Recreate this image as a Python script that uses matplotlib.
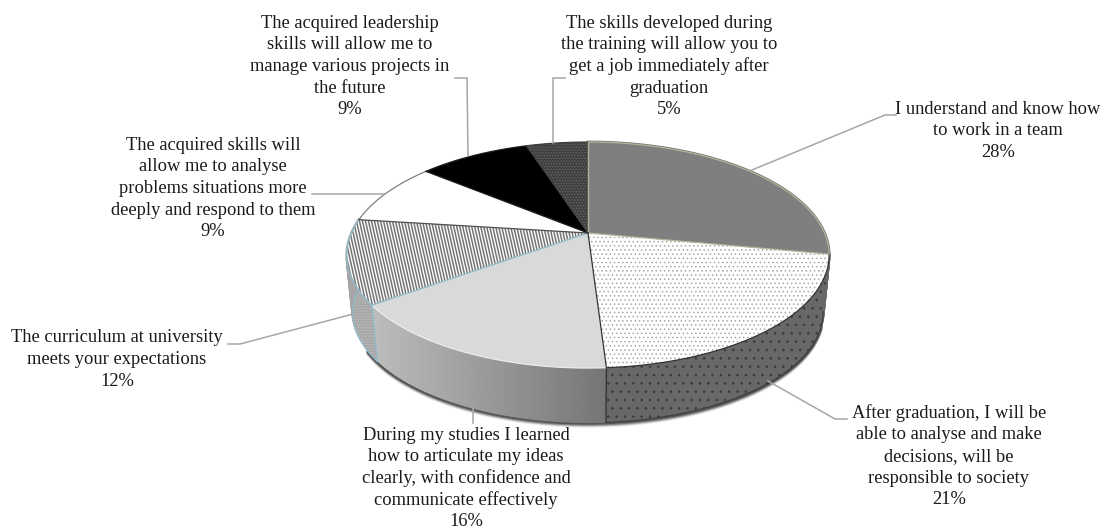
""" 3D looking pie chart of the student survey, drawn on a pixel sized axes. """

import numpy as np
import matplotlib
matplotlib.use('Agg')
import matplotlib.pyplot as plt
from matplotlib.patches import Polygon
from matplotlib.collections import LineCollection

plt.rcParams['font.family'] = ['Liberation Serif', 'DejaVu Serif']
plt.rcParams['hatch.linewidth'] = 0.6

values = [28, 21, 16, 12, 9, 9, 5]
labels = ['I understand and know how\nto work in a team',
          'After graduation, I will be\nable to analyse and make\ndecisions, will be\nresponsible to society',
          'During my studies I learned\nhow to articulate my ideas\nclearly, with confidence and\ncommunicate effectively',
          'The curriculum at university\nmeets your expectations',
          'The acquired skills will\nallow me to analyse\nproblems situations more\ndeeply and respond to them',
          'The acquired leadership\nskills will allow me to\nmanage various projects in\nthe future',
          'The skills developed during\nthe training will allow you to\nget a job immediately after\ngraduation']

# layout, in reference pixels
label_pos = [(998, 109), (949, 413), (466, 435), (117, 338), (213, 145), (350, 23), (669, 23)]
leaders = [[(752, 170), (885, 115), (896, 115)],
           [(768, 381), (835, 419), (847, 419)],
           [(473, 407), (473, 423)],
           [(353, 314), (240, 344), (228, 344)],
           [(385, 194), (312, 194)],
           [(468, 155), (467, 78), (455, 78)],
           [(553, 143), (553, 78), (565, 78)]]

top_face = ['#7f7f7f', '#ffffff', '#d9d9d9', '#ffffff', '#ffffff', '#000000', '#404040']
top_hatch = [None, '....', None, None, None, None, '......']
top_hatch_col = [None, '#a8a8a8', None, None, None, None, '#666666']
side_face = ['#6f6f6f', '#686868', '#999999', '#a6a6a6', '#d0d0d0', '#222222', '#333333']
side_hatch = [None, '..', None, '......', None, None, None]
side_hatch_col = [None, '#3a3a3a', None, '#c4c4c4', None, None, None]
arc_col = ['#b4b69a', '#30343a', '#ececec', '#8fbccb', '#808080', '#202020', '#404040']
ray_col = ['#b4b69a', '#b4b69a', '#30343a', '#8fbccb', '#505050', '#202020', '#404040']

CX, CY = 588, 233
A, B, P = 236.5, 108.7, 0.195
DEPTH, SHRINK = 58, 0.975


def project(frac, level=0.0):
    """ position on the circle (fraction clockwise from the top) to pixels,
        level 0 is the top face and level 1 the bottom of the wall """
    ang = 2 * np.pi * np.asarray(frac, dtype=float)
    x, y = np.sin(ang), np.cos(ang)
    w = 1 + P * y
    s = 1 + (SHRINK - 1) * level
    return np.column_stack((CX + s * A * x / w, CY + DEPTH * level - s * B * y / w))


fig = plt.figure(figsize=(11.07, 5.29), dpi=100)
ax = fig.add_axes([0, 0, 1, 1])

stops = np.cumsum([0] + values) / sum(values)

# soft shadow under the front of the pie
arc = np.linspace(stops[1] + 0.02, stops[3] + 0.015, 120)
for off, alpha in zip([3.5, 2.5, 1.5, 0.5], [0.12, 0.25, 0.4, 0.6]):
    pts = project(arc, 1.0) + [0, off]
    ax.plot(pts[:, 0], pts[:, 1], color='#2a2a2a', lw=2.0, alpha=alpha,
            solid_capstyle='round', zorder=0.2)

# side walls
for i in range(len(values)):
    arc = np.linspace(stops[i], stops[i + 1], 100)
    # sweep down first so the silhouette between top and bottom stays closed
    if i in (0, 1, 3):
        for level in np.linspace(0, 0.97, 30):
            sweep = project(arc, level)
            ax.plot(sweep[:, 0], sweep[:, 1], color=side_face[i], lw=2.0, zorder=0.5)
    pts = np.vstack((project(arc), project(arc, 1.0)[::-1]))
    if i == 2:
        grad = np.linspace(0.74, 0.46, 256).reshape(1, -1)
        patch = Polygon(pts, closed=True, fc='none', ec='none', zorder=0.6)
        ax.add_patch(patch)
        im = ax.imshow(grad, cmap='gray', vmin=0, vmax=1, aspect='auto', zorder=0.6,
                       extent=(pts[:, 0].min(), pts[:, 0].max(), pts[:, 1].max(), pts[:, 1].min()))
        im.set_clip_path(patch)
    else:
        ax.add_patch(Polygon(pts, closed=True, fc=side_face[i], lw=0, zorder=0.6))
        if side_hatch[i]:
            ax.add_patch(Polygon(pts, closed=True, fc='none', ec=side_hatch_col[i],
                                 hatch=side_hatch[i], lw=0, zorder=0.7))

# seams between the front walls
for i in (2, 3):
    seam = np.vstack((project([stops[i]]), project([stops[i]], 1.0)))
    ax.plot(seam[:, 0], seam[:, 1], color=ray_col[i], lw=1, zorder=0.8)

# outline of the wall on the left and right
pts = project(np.linspace(stops[3], stops[4], 60), 1.0)
ax.plot(pts[:, 0], pts[:, 1], color=arc_col[3], lw=0.9, zorder=0.8)
pts = project(np.linspace(stops[1], stops[2], 100), 1.0)
ax.plot(pts[:, 0], pts[:, 1], color='#3a3a3a', lw=0.8, zorder=0.8)

# top faces
for i in range(len(values)):
    arc = np.linspace(stops[i], stops[i + 1], 100)
    pts = np.vstack(([(CX, CY)], project(arc)))
    ax.add_patch(Polygon(pts, closed=True, fc=top_face[i], lw=0, zorder=1))
    if top_hatch[i]:
        ax.add_patch(Polygon(pts, closed=True, fc='none', ec=top_hatch_col[i],
                             hatch=top_hatch[i], lw=0, zorder=1.1))
    if i == 3:
        # steep stripes of the curriculum wedge
        patch = Polygon(pts, closed=True, fc='none', lw=0, zorder=1.1)
        ax.add_patch(patch)
        xs = np.arange(270, 620, 3.0)
        segs = [[(x, 130), (x + 45, 330)] for x in xs]
        lc = LineCollection(segs, colors='#747474', linewidths=1.1, zorder=1.1)
        ax.add_collection(lc)
        lc.set_clip_path(patch)

# edges of the top faces
for i in range(len(values)):
    pts = project(np.linspace(stops[i], stops[i + 1], 100))
    ax.plot(pts[:, 0], pts[:, 1], color=arc_col[i], lw=0.9, zorder=1.5)
for i in range(len(values)):
    ray = np.vstack(([(CX, CY)], project([stops[i]])))
    ax.plot(ray[:, 0], ray[:, 1], color=ray_col[i], lw=0.9, zorder=1.5)

# leader lines
for line in leaders:
    xs, ys = zip(*line)
    ax.plot(xs, ys, color='#a6a6a6', lw=1.1, solid_joinstyle='miter', zorder=2)

# labels, one text per line to hold the 21.7 px pitch of the reference
for lab, val, (x, y) in zip(labels, values, label_pos):
    for n, row in enumerate(lab.split('\n') + ['%d%%' % val]):
        ax.text(x, y + n * 21.7, row, ha='center', va='center', fontsize=13.3, color='#1a1a1a')

ax.set_xlim(0, 1107)
ax.set_ylim(529, 0)
ax.axis('off')
fig.savefig('out.png', dpi=100)
